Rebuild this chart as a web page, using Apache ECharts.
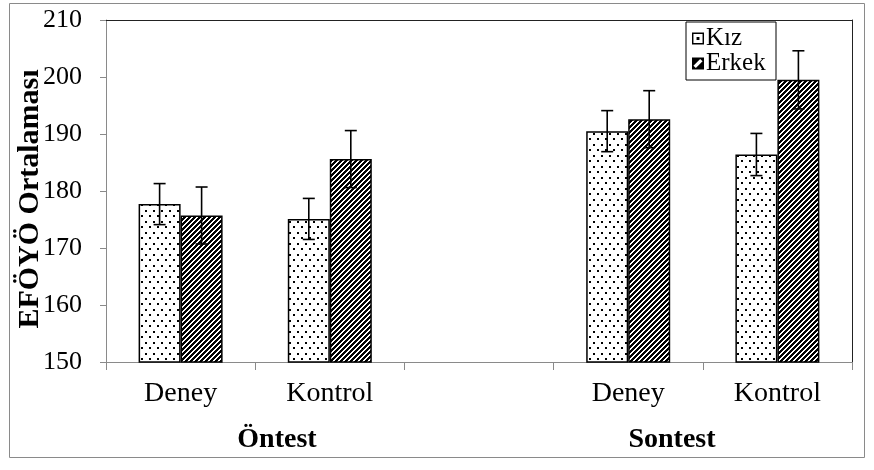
<!DOCTYPE html>
<html>
<head>
<meta charset="utf-8">
<script src="https://cdn.jsdelivr.net/npm/echarts@6/dist/echarts.min.js"></script>
<style>
  html, body { margin: 0; padding: 0; background: #fff; }
  #chart { width: 874px; height: 470px; }
</style>
</head>
<body>
<div id="chart"></div>
<script>
// Group means and error margins (EFÖYÖ scores)
const categories = ['Deney', 'Kontrol', '', 'Deney', 'Kontrol'];
const kizMeans = [177.7, 175.1, null, 190.5, 186.4];
const kizErrors = [3.6, 3.6, null, 3.6, 3.7];
const erkekMeans = [175.7, 185.6, null, 192.6, 199.5];
const erkekErrors = [5.0, 5.0, null, 5.0, 5.1];
const yMin = 150, yMax = 210, yStep = 10;
const groupLabels = ['Öntest', 'Sontest'];

const SERIF = '"Liberation Serif", "Times New Roman", serif';
const BAR_W = 42;

// Fill patterns: dotted for Kız, diagonal hatch for Erkek
function dotPattern() {
  const c = document.createElement('canvas');
  c.width = 8; c.height = 11;
  const g = c.getContext('2d');
  g.fillStyle = '#fff'; g.fillRect(0, 0, 8, 11);
  g.fillStyle = '#000';
  g.fillRect(1, 1, 2, 2);
  g.fillRect(5, 6, 2, 2);
  return c;
}
function hatchPattern() {
  const n = 5;
  const c = document.createElement('canvas');
  c.width = n; c.height = n;
  const g = c.getContext('2d');
  g.fillStyle = '#fff'; g.fillRect(0, 0, n, n);
  g.fillStyle = '#000';
  for (let x = 0; x < n; x++) {
    for (let y = 0; y < n; y++) {
      if ((x + y) % n < 3) g.fillRect(x, y, 1, 1);
    }
  }
  return c;
}

function errorData(means, errs) {
  const out = [];
  means.forEach((m, i) => { if (m != null) out.push([i, m, errs[i]]); });
  return out;
}

function errorRenderer(offset) {
  return function (params, api) {
    const i = api.value(0), m = api.value(1), e = api.value(2);
    const top = api.coord([i, m + e]);
    const bot = api.coord([i, m - e]);
    const x = top[0] + offset;
    const style = { stroke: '#000', lineWidth: 1.6 };
    return {
      type: 'group',
      children: [
        { type: 'line', shape: { x1: x, y1: top[1], x2: x, y2: bot[1] }, style },
        { type: 'line', shape: { x1: x - 6, y1: top[1], x2: x + 6, y2: top[1] }, style },
        { type: 'line', shape: { x1: x - 6, y1: bot[1], x2: x + 6, y2: bot[1] }, style }
      ]
    };
  };
}

const kizIcon = 'path://M0 0L100 0L100 100L0 100Z M12 12L12 88L88 88L88 12Z M38 38L62 38L62 62L38 62Z';
const erkekIcon = 'path://M0 0L100 0L100 100L0 100Z M12 68L32 88L88 32L68 12Z';

const chart = echarts.init(document.getElementById('chart'), null, { renderer: 'canvas' });

const axisGray = '#8a8a8a';

chart.setOption({
  animation: false,
  backgroundColor: '#fff',
  grid: { left: 106, top: 20, right: 22, bottom: 108, containLabel: false },
  legend: {
    orient: 'vertical',
    left: 686,
    top: 22,
    padding: [4, 6, 4, 6],
    itemGap: 0,
    itemWidth: 12,
    itemHeight: 12,
    borderColor: '#000',
    borderWidth: 1,
    textStyle: { fontFamily: SERIF, fontSize: 25, lineHeight: 23, color: '#000', width: 64, padding: [0, 0, 0, -3] },
    data: [
      { name: 'Kız', icon: kizIcon, itemStyle: { color: '#000', borderWidth: 0 } },
      { name: 'Erkek', icon: erkekIcon, itemStyle: { color: '#000', borderWidth: 0 } }
    ]
  },
  xAxis: [
    {
      type: 'category',
      data: categories,
      axisLine: { lineStyle: { color: axisGray, width: 1 } },
      axisTick: { show: true, length: 8, interval: 0, lineStyle: { color: axisGray } },
      axisLabel: { fontFamily: SERIF, fontSize: 28, color: '#000', margin: 18, interval: 0 },
      splitLine: { show: false }
    },
    {
      type: 'category',
      data: categories,
      position: 'top',
      axisLine: { lineStyle: { color: '#222', width: 1 } },
      axisTick: { show: false },
      axisLabel: { show: false }
    }
  ],
  yAxis: [
    {
      type: 'value',
      min: yMin, max: yMax, interval: yStep,
      axisLine: { show: true, lineStyle: { color: axisGray, width: 1 } },
      axisTick: { show: true, length: 6, lineStyle: { color: axisGray } },
      axisLabel: { fontFamily: SERIF, fontSize: 26, color: '#000', margin: 24 },
      splitLine: { show: false }
    },
    {
      type: 'value',
      min: yMin, max: yMax, interval: yStep,
      position: 'right',
      axisLine: { show: true, lineStyle: { color: '#222', width: 1 } },
      axisTick: { show: false },
      axisLabel: { show: false },
      splitLine: { show: false }
    }
  ],
  series: [
    {
      name: 'Kız',
      type: 'bar',
      data: kizMeans,
      barWidth: BAR_W,
      barGap: '0%',
      itemStyle: { color: { image: dotPattern(), repeat: 'repeat' }, borderColor: '#000', borderWidth: 1.5 }
    },
    {
      name: 'Erkek',
      type: 'bar',
      data: erkekMeans,
      barWidth: BAR_W,
      barGap: '0%',
      itemStyle: { color: { image: hatchPattern(), repeat: 'repeat' }, borderColor: '#000', borderWidth: 1.5 }
    },
    {
      name: 'Kız hata',
      type: 'custom',
      renderItem: errorRenderer(-BAR_W / 2),
      data: errorData(kizMeans, kizErrors),
      z: 5
    },
    {
      name: 'Erkek hata',
      type: 'custom',
      renderItem: errorRenderer(BAR_W / 2),
      data: errorData(erkekMeans, erkekErrors),
      z: 5
    }
  ],
  graphic: [
    {
      type: 'rect',
      shape: { x: 9.5, y: 3.5, width: 855, height: 454 },
      style: { fill: 'none', stroke: '#8a8a8a', lineWidth: 1 },
      silent: true
    },
    {
      type: 'text',
      x: 30, y: 199,
      rotation: Math.PI / 2,
      style: {
        text: 'EFÖYÖ Ortalaması',
        fontFamily: SERIF, fontSize: 30, fontWeight: 'bold', fill: '#000',
        align: 'center', verticalAlign: 'middle'
      }
    },
    {
      type: 'text',
      x: 277, y: 440,
      style: {
        text: groupLabels[0],
        fontFamily: SERIF, fontSize: 28, fontWeight: 'bold', fill: '#000',
        align: 'center', verticalAlign: 'middle'
      }
    },
    {
      type: 'text',
      x: 672, y: 440,
      style: {
        text: groupLabels[1],
        fontFamily: SERIF, fontSize: 28, fontWeight: 'bold', fill: '#000',
        align: 'center', verticalAlign: 'middle'
      }
    }
  ]
});
</script>
</body>
</html>
